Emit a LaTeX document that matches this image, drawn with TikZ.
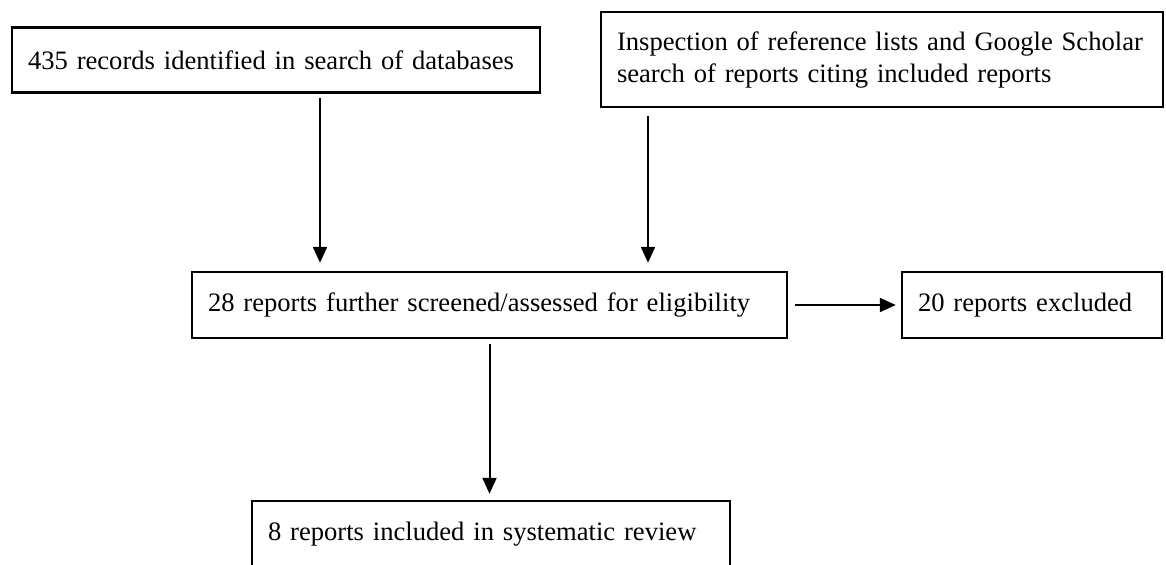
\documentclass[tikz,border=0pt]{standalone}
\usepackage{fontspec}
\setmainfont{Liberation Serif}
\usetikzlibrary{arrows.meta}

\begin{document}
\begin{tikzpicture}[
    x=0.5pt, y=-0.5pt,
    box/.style={
      rectangle,
      draw=black,
      line width=1.2pt,
      align=left,
      inner xsep=8pt,
      font=\fontsize{13.3}{16}\selectfont
    },
    flow/.style={
      -{Triangle[length=8pt,width=7pt]},
      line width=1pt
    },
]

\clip (0,0) rectangle (1166,564);

\node[box, text width=248pt, minimum height=32.5pt] (search) at (276,60) {435 records identified in search of databases};

\node[box, text width=265pt, minimum height=47.5pt] (citing) at (882,59.5) {Inspection of reference lists and Google Scholar\\ search of reports citing included reports};

\node[box, text width=281.5pt, minimum height=33pt] (screen) at (489.5,305) {28 reports further screened/assessed for eligibility};

\node[box, text width=114pt, minimum height=33pt] (excluded) at (1032,305) {20 reports excluded};

\node[box, text width=223pt, minimum height=33pt] (included) at (491,534) {8 reports included in systematic review};

\draw[flow, shorten <=2pt, shorten >=4pt] ([xshift=22pt]search.south) -- ([xshift=22pt]search.south |- screen.north);
\draw[flow, shorten <=4pt, shorten >=4pt] ([xshift=-117pt]citing.south) -- ([xshift=-117pt]citing.south |- screen.north);
\draw[flow, shorten <=2.5pt, shorten >=3pt] (screen.south) -- (screen.south |- included.north);
\draw[flow, shorten <=3.5pt, shorten >=2.5pt] (screen.east) -- (excluded.west);

\end{tikzpicture}
\end{document}
